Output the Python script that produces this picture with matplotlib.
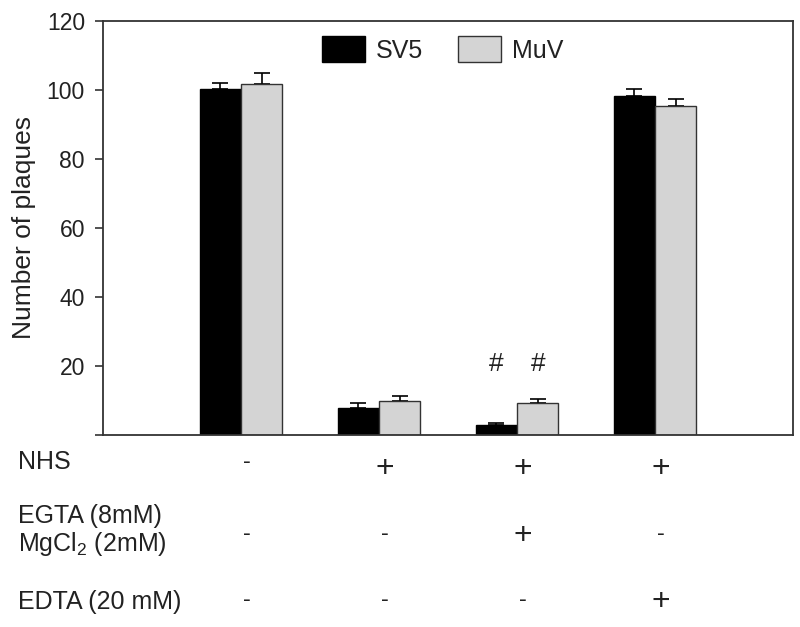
import matplotlib
matplotlib.use("Agg")
import matplotlib.pyplot as plt
import numpy as np

plt.rcParams['font.family'] = ['Liberation Sans', 'DejaVu Sans']
plt.rcParams['mathtext.fontset'] = 'custom'
plt.rcParams['mathtext.rm'] = 'Liberation Sans'

# data
groups = np.arange(4)
sv5 = [100.3, 7.7, 2.9, 98.1]
sv5_err = [1.7, 1.6, 0.7, 2.2]
muv = [101.6, 9.8, 9.3, 95.2]
muv_err = [3.3, 1.5, 1.0, 2.0]
yticks = [0, 20, 40, 60, 80, 100, 120]
ytick_labels = ['', '20', '40', '60', '80', '100', '120']

row_labels = ['NHS', 'EGTA (8mM)\nMgCl$_\\mathregular{2}$ (2mM)', 'EDTA (20 mM)']
conditions = [['-', '+', '+', '+'],
              ['-', '-', '+', '-'],
              ['-', '-', '-', '+']]
marks = ['', '', '#', '']  # significance marks per group (on both bars)

W, H = 800, 627
fig = plt.figure(figsize=(W / 100, H / 100), dpi=100)
ax = fig.add_axes([103 / W, 1 - 435 / H, 690 / W, (435 - 20.7) / H])

width = 0.3
edge = '#333333'
txt = '#222222'
ax.bar(groups - width / 2, sv5, width, color='black', edgecolor='black',
       linewidth=1, label='SV5', zorder=2)
ax.bar(groups + width / 2, muv, width, color='#d4d4d4', edgecolor=edge,
       linewidth=1, label='MuV', zorder=2)
ax.errorbar(groups - width / 2, sv5, yerr=[np.zeros(4), sv5_err], fmt='none',
            ecolor='black', elinewidth=1.2, capsize=5.5, capthick=1.2, zorder=1)
ax.errorbar(groups + width / 2, muv, yerr=[np.zeros(4), muv_err], fmt='none',
            ecolor='black', elinewidth=1.2, capsize=5.5, capthick=1.2, zorder=1)

for i, m in enumerate(marks):
    if m:
        ax.text(i - width / 2, 20.5, m, ha='center', va='center', fontsize=19, color=txt)
        ax.text(i + width / 2, 20.5, m, ha='center', va='center', fontsize=19, color=txt)

ax.set_xlim(-1, 4)
ax.set_ylim(0, 120)
ax.set_yticks(yticks)
ax.set_yticklabels(ytick_labels)
ax.set_xticks([])
ax.tick_params(axis='y', direction='out', length=6, width=1.2, pad=7,
               labelsize=16.5, color=edge, labelcolor=txt)
for s in ax.spines.values():
    s.set_linewidth(1.3)
    s.set_color(edge)
ax.set_ylabel('Number of plaques', fontsize=19, color=txt, labelpad=8)

ax.legend(loc='upper left', bbox_to_anchor=(0.318, 0.962), ncol=2,
          frameon=False, fontsize=18, handlelength=1.7, handleheight=1.2,
          handletextpad=0.45, columnspacing=1.4, borderpad=0, borderaxespad=0,
          labelcolor=txt)

# condition table under the plot
trans = matplotlib.transforms.blended_transform_factory(ax.transData, fig.transFigure)
label_y = [462, 531, 602]
for r, lab in enumerate(row_labels):
    fig.text(18 / W, 1 - label_y[r] / H, lab, ha='left', va='center',
             fontsize=18, color=txt, linespacing=1.1)
    for c, sym in enumerate(conditions[r]):
        if sym == '+':
            y = [469, 536, 602][r]
            fs = 23
        else:
            y = [462, 534, 600][r]
            fs = 17
        ax.text(c + 0.04, 1 - y / H, sym, transform=trans, ha='center',
                va='center', fontsize=fs, color=txt, clip_on=False)

fig.savefig('out.png', dpi=100)
